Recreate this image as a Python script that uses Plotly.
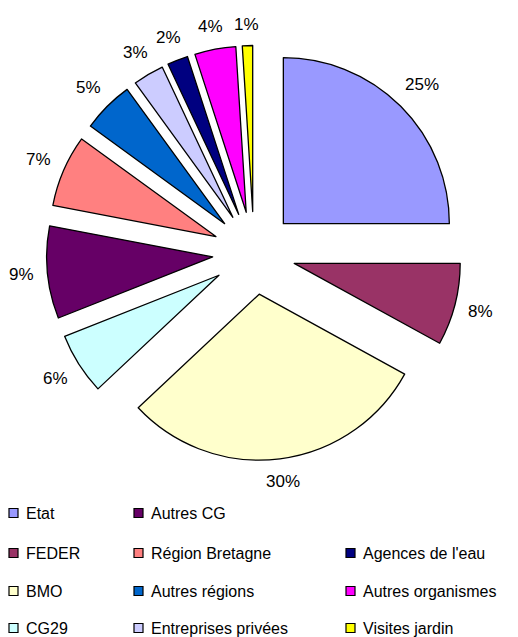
import math
import plotly.graph_objects as go

labels = ["Etat", "FEDER", "BMO", "CG29", "Autres CG", "Région Bretagne",
          "Autres régions", "Entreprises privées", "Agences de l'eau",
          "Autres organismes", "Visites jardin"]
values = [25, 8, 30, 6, 9, 7, 5, 3, 2, 4, 1]
colors = ["#9999FF", "#993366", "#FFFFCC", "#CCFFFF", "#660066", "#FF8080",
          "#0066CC", "#CCCCFF", "#000080", "#FF00FF", "#FFFF00"]

OFF = 8                      # page body margin of the browser
W, H = 518 - OFF, 637 - OFF  # figure size so that it fills the window
FONT = "Liberation Sans, Arial, sans-serif"

def px(x):
    return (x - OFF) / W

def py(y):
    return 1 - (y - OFF) / H

# pie geometry (window pixels)
cx, cy, R, PULL = 254, 253, 166, 0.25
ext = R * (1 + PULL)
dom_x = [px(cx - ext), px(cx + ext)]
dom_y = [py(cy + ext), py(cy - ext)]

fig = go.Figure(go.Pie(
    labels=labels, values=values, sort=False, direction="clockwise", rotation=0,
    pull=[PULL] * len(values),
    marker=dict(colors=colors, line=dict(color="black", width=1.3)),
    textinfo="none", automargin=False,
    domain=dict(x=dom_x, y=dom_y),
    showlegend=False, hoverinfo="label+percent",
))

annos, shapes = [], []

# percentage labels outside each slice
total = sum(values)
cum = 0
LBL_SIZE = 17
for v in values:
    mid = (cum + v / 2) / total * 2 * math.pi
    cum += v
    s, c = math.sin(mid), -math.cos(mid)
    txt = f"{round(v / total * 100)}%"
    w = 0.56 * LBL_SIZE * (len(txt) - 1) + 0.89 * LBL_SIZE
    h = LBL_SIZE * 0.9
    dist = R * (1 + PULL) + 13 + (w / 2) * abs(s) + (h / 2) * abs(c)
    annos.append(dict(text=txt, xref="paper", yref="paper",
                      x=px(cx + dist * s), y=py(cy + dist * c),
                      xanchor="center", yanchor="middle", showarrow=False,
                      font=dict(family=FONT, size=LBL_SIZE, color="black")))

# custom legend (3 columns, last column starts on the second row)
col_x = [9, 134, 346]
row_y = [513, 553, 591, 628]
SQ = 9
for i, (lab, col) in enumerate(zip(labels, colors)):
    slot = i if i < 8 else i + 1
    ci, ri = slot // 4, slot % 4
    x0 = col_x[ci]
    y = row_y[ri]
    shapes.append(dict(type="rect", xref="paper", yref="paper",
                       x0=px(x0), x1=px(x0 + SQ), y0=py(y + SQ / 2), y1=py(y - SQ / 2),
                       fillcolor=col, line=dict(color="black", width=1.2)))
    annos.append(dict(text=lab, xref="paper", yref="paper",
                      x=px(x0 + 15), y=py(y), xanchor="left", yanchor="middle",
                      showarrow=False, font=dict(family=FONT, size=16, color="black")))

fig.update_layout(width=W, height=H, margin=dict(l=0, r=0, t=0, b=0, autoexpand=False),
                  paper_bgcolor="white", plot_bgcolor="white",
                  shapes=shapes, annotations=annos)
fig.write_html("out.html")
